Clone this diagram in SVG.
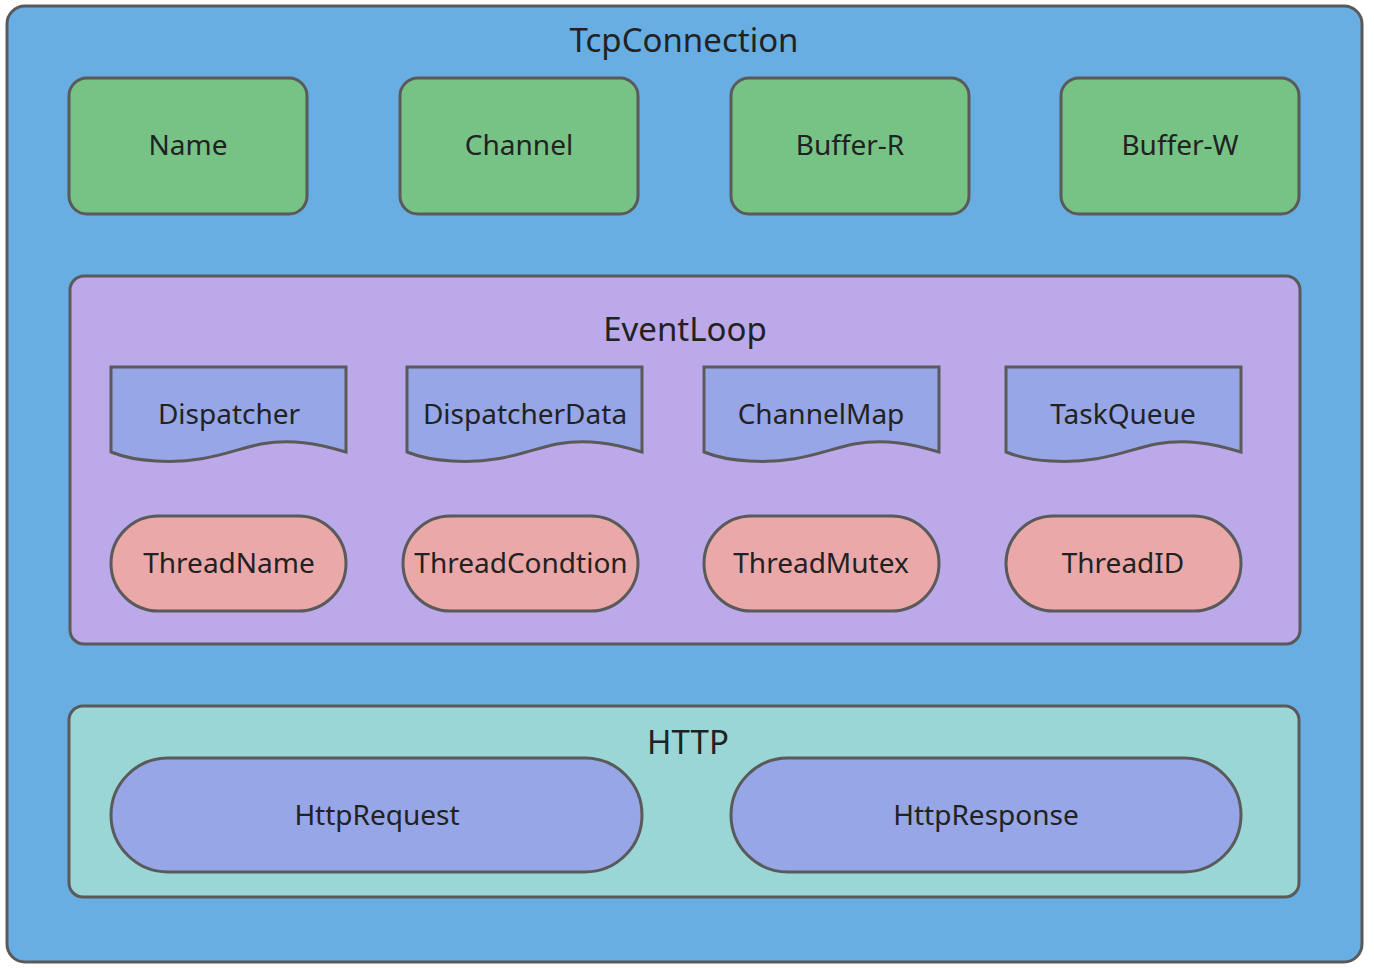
<svg xmlns="http://www.w3.org/2000/svg" width="1374" height="968" viewBox="0 0 1374 968">
<style>
.s{stroke:#5a5a5a;stroke-width:3}
.t{font-family:"Noto Sans","DejaVu Sans",sans-serif;font-size:28px;fill:#222;text-anchor:middle;dominant-baseline:central}
.h{font-size:33px}
.g{fill:#77c386}
.d{fill:#97a6e6}
.p{fill:#eba8a8}
</style>
<rect width="1374" height="968" fill="#ffffff"/>
<g id="tcpconnection">
<rect class="s" x="7" y="6" width="1355" height="956" rx="18" fill="#68aee2"/>
<text class="t h" x="684" y="39">TcpConnection</text>
</g>
<g id="name"><rect class="s g" x="69" y="78" width="238" height="136" rx="18"/><text class="t" x="188" y="144">Name</text></g>
<g id="channel"><rect class="s g" x="400" y="78" width="238" height="136" rx="18"/><text class="t" x="519" y="144">Channel</text></g>
<g id="buffer-r"><rect class="s g" x="731" y="78" width="238" height="136" rx="18"/><text class="t" x="850" y="144">Buffer-R</text></g>
<g id="buffer-w"><rect class="s g" x="1061" y="78" width="238" height="136" rx="18"/><text class="t" x="1180" y="144">Buffer-W</text></g>
<g id="eventloop">
<rect class="s" x="70" y="276" width="1230" height="368" rx="14" fill="#bca9e9"/>
<text class="t h" x="685" y="328">EventLoop</text>
</g>
<defs>
<path id="doc" d="M0,0 H235 V85 C205,76 180,72 150,77 C120,83 95,97 45,94 C25,93 10,89 0,85 Z"/>
</defs>
<g id="dispatcher"><use href="#doc" x="111" y="367" class="s d"/><text class="t" x="229" y="413">Dispatcher</text></g>
<g id="dispatcherdata"><use href="#doc" x="407" y="367" class="s d"/><text class="t" x="525" y="413">DispatcherData</text></g>
<g id="channelmap"><use href="#doc" x="704" y="367" class="s d"/><text class="t" x="821" y="413">ChannelMap</text></g>
<g id="taskqueue"><use href="#doc" x="1006" y="367" class="s d"/><text class="t" x="1123" y="413">TaskQueue</text></g>
<g id="threadname"><rect class="s p" x="111" y="516" width="235" height="95" rx="47.5"/><text class="t" x="229" y="562">ThreadName</text></g>
<g id="threadcondtion"><rect class="s p" x="403" y="516" width="235" height="95" rx="47.5"/><text class="t" x="521" y="562">ThreadCondtion</text></g>
<g id="threadmutex"><rect class="s p" x="704" y="516" width="235" height="95" rx="47.5"/><text class="t" x="821" y="562">ThreadMutex</text></g>
<g id="threadid"><rect class="s p" x="1006" y="516" width="235" height="95" rx="47.5"/><text class="t" x="1123" y="562">ThreadID</text></g>
<g id="http">
<rect class="s" x="69" y="706" width="1230" height="191" rx="14" fill="#9ad6d6"/>
<text class="t h" x="688" y="741">HTTP</text>
</g>
<g id="httprequest"><rect class="s d" x="111" y="758" width="531" height="114" rx="57"/><text class="t" x="377" y="814">HttpRequest</text></g>
<g id="httpresponse"><rect class="s d" x="731" y="758" width="510" height="114" rx="57"/><text class="t" x="986" y="814">HttpResponse</text></g>
<g id="connectors"></g>
</svg>
